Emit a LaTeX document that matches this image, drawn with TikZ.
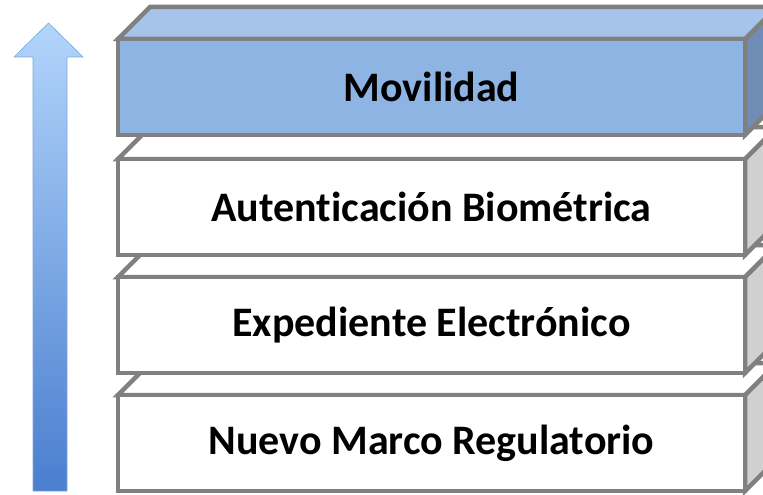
\documentclass[tikz,border=0pt]{standalone}
\usepackage{fontspec}
\setmainfont[Ligatures=NoCommon]{Carlito}
\usepackage{xcolor}
\usepackage{tikz}

\definecolor{borde}{HTML}{808080}
\definecolor{azulfrente}{HTML}{8EB4E3}
\definecolor{azultapa}{HTML}{A6C4EA}
\definecolor{azullado}{HTML}{6F8DB5}
\definecolor{grislado}{HTML}{D0D0D0}
\definecolor{flechaarriba}{HTML}{B2D5FB}
\definecolor{flechamedio}{HTML}{7FAEEE}
\definecolor{flechaabajo}{HTML}{4A7ECF}

\tikzset{
	cara/.style={draw=borde,line width=4.5pt},
	rotulo/.style={font=\bfseries\fontsize{42}{48}\selectfont,text=black}
}

% capa: nombre, y superior, color frente, color tapa, color lado, texto
\newcommand{\capa}[6]{
	\filldraw[cara,fill=#5] (745,#2) -- (777,#2-32) -- (777,#2+64) -- (745,#2+96) -- cycle;
	\filldraw[cara,fill=#4] (118,#2) -- (150,#2-32) -- (777,#2-32) -- (745,#2) -- cycle;
	\filldraw[cara,fill=#3] (118,#2) rectangle (745,#2+96);
	\node[rotulo] (#1) at (431.5,#2+48) {#6};
}

\begin{document}
\begin{tikzpicture}[x=1pt,y=-1pt]
		\useasboundingbox (0,0) rectangle (763,495);

		% flecha
		\shade[top color=flechaarriba,middle color=flechamedio,bottom color=flechaabajo,draw=flechaabajo!70,line width=0.6pt]
			(33,491) -- (33,57) -- (14,57) -- (48.5,23) -- (83,57) -- (67,57) -- (67,491) -- cycle;

		% capas, de abajo hacia arriba
		\capa{marco}{395}{white}{white}{grislado}{Nuevo Marco Regulatorio}
		\capa{expediente}{277}{white}{white}{grislado}{Expediente Electrónico}
		\capa{autenticacion}{159}{white}{white}{grislado}{Autenticación Biométrica}
		\capa{movilidad}{39}{azulfrente}{azultapa}{azullado}{Movilidad}

\end{tikzpicture}
\end{document}
